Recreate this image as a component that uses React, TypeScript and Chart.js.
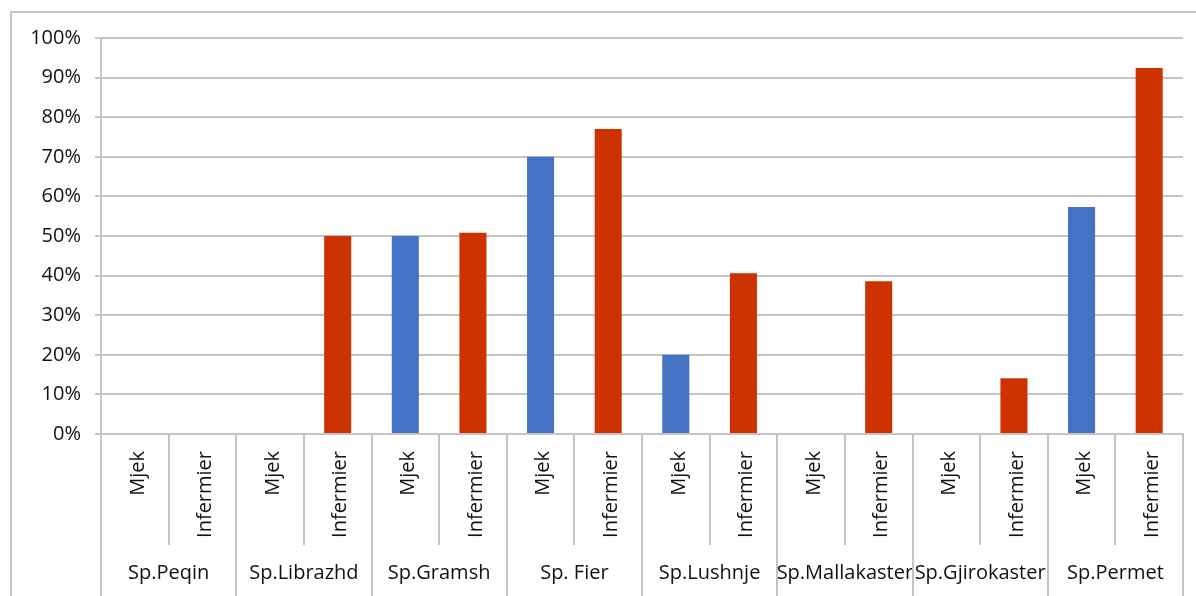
import React, { useEffect, useRef } from 'react';
import { Chart, registerables } from 'chart.js';

Chart.register(...registerables);

// ---- data ----
const groups = ['Sp.Peqin', 'Sp.Librazhd', 'Sp.Gramsh', 'Sp. Fier', 'Sp.Lushnje', 'Sp.Mallakaster', 'Sp.Gjirokaster', 'Sp.Permet'];
const roles = ['Mjek', 'Infermier'];
const mjekValues = [0, 0, 50, 70, 20, 0, 0, 57.3];
const infermierValues = [0, 50, 50.8, 77, 40.6, 38.6, 14.1, 92.4];
const yTickValues = [0, 10, 20, 30, 40, 50, 60, 70, 80, 90, 100];

const BLUE = '#4472C4';
const RED = '#CC3300';
const GRID = '#c4c4c4';
const TEXT = '#111111';
const FONT = 'Open Sans';

const subLabels: string[] = [];
const values: number[] = [];
const colors: string[] = [];
groups.forEach((_, i) => {
  subLabels.push(roles[0], roles[1]);
  values.push(mjekValues[i], infermierValues[i]);
  colors.push(BLUE, RED);
});

const multiLevelPlugin = {
  id: 'multiLevel',
  beforeDraw(chart: any) {
    const ctx = chart.ctx;
    ctx.save();
    ctx.strokeStyle = GRID;
    ctx.lineWidth = 2;
    ctx.strokeRect(11, 12, 1400, 900);
    ctx.restore();
  },
  afterDraw(chart: any) {
    const ctx = chart.ctx;
    const x = chart.scales.x;
    const x2 = chart.scales.x2;
    const n = subLabels.length;
    const w = x.width / n;
    ctx.save();
    ctx.strokeStyle = GRID;
    ctx.lineWidth = 2;
    for (let i = 0; i <= n; i++) {
      const px = Math.round(x.left + i * w);
      const bottom = i % 2 === 0 ? x2.bottom : x.bottom;
      ctx.beginPath();
      ctx.moveTo(px, x.top);
      ctx.lineTo(px, bottom);
      ctx.stroke();
    }
    ctx.restore();
  },
};

export default function App() {
  const ref = useRef<HTMLCanvasElement | null>(null);
  useEffect(() => {
    if (!ref.current) return;
    const chart = new Chart(ref.current, {
      type: 'bar',
      data: {
        labels: subLabels,
        datasets: [
          {
            data: values,
            backgroundColor: colors,
            borderWidth: 0,
            categoryPercentage: 1,
            barPercentage: 0.4,
          },
        ],
      },
      options: {
        responsive: false,
        animation: false,
        layout: { padding: { left: 0, top: 38, right: 13, bottom: 0 } },
        plugins: { legend: { display: false }, tooltip: { enabled: false } },
        scales: {
          y: {
            min: 0,
            max: 100,
            afterFit: (s: any) => { s.width = 101; },
            afterBuildTicks: (s: any) => { s.ticks = yTickValues.map((v) => ({ value: v })); },
            ticks: {
              stepSize: 10,
              padding: 14,
              color: TEXT,
              font: { family: FONT, size: 20 },
              callback: (v: any) => v + '%',
            },
            grid: { color: GRID, lineWidth: 2, tickLength: 6, drawTicks: true },
            border: { color: GRID, width: 2 },
          },
          x: {
            type: 'category',
            weight: 0,
            offset: true,
            afterFit: (s: any) => { s.height = 111; },
            grid: { display: false, drawTicks: false },
            border: { color: GRID, width: 2 },
            ticks: {
              autoSkip: false,
              minRotation: 90,
              maxRotation: 90,
              padding: 17,
              labelOffset: 3,
              color: TEXT,
              font: { family: FONT, size: 20 },
            },
          },
          x2: {
            type: 'category',
            position: 'bottom',
            weight: 1,
            labels: groups,
            offset: true,
            afterFit: (s: any) => { s.height = 51; },
            grid: { display: false, drawTicks: false },
            border: { display: false },
            ticks: {
              autoSkip: false,
              maxRotation: 0,
              minRotation: 0,
              padding: 16,
              color: TEXT,
              font: { family: FONT, size: 20 },
            },
          },
        },
      } as any,
      plugins: [multiLevelPlugin],
    });
    return () => chart.destroy();
  }, []);
  return (
    <div style={{ position: 'absolute', left: 0, top: 0, width: 1196, height: 596 }}>
      <canvas ref={ref} width={1196} height={596} style={{ display: 'block' }} />
    </div>
  );
}
